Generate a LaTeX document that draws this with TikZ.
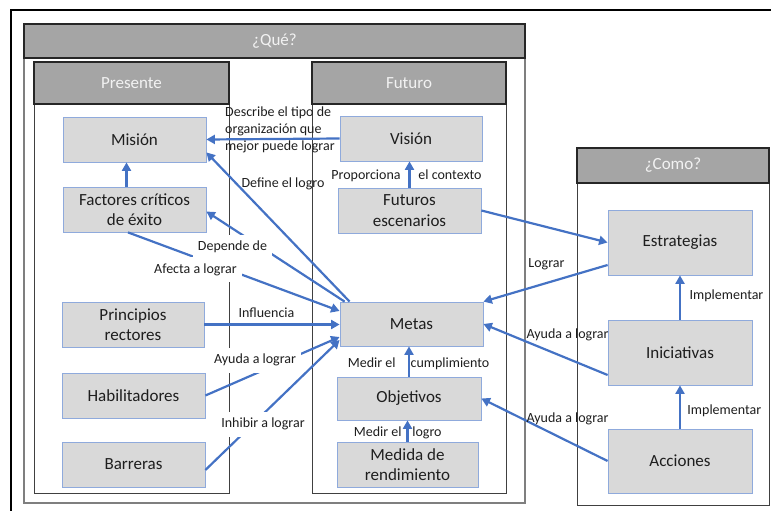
\documentclass[tikz,border=0pt]{standalone}
\usepackage{fontspec}
\setmainfont{Carlito}
\usetikzlibrary{arrows.meta,calc}
\definecolor{boxfill}{HTML}{D9D9D9}
\definecolor{boxline}{HTML}{8FAADC}
\definecolor{hdrfill}{HTML}{A5A5A5}
\definecolor{arrowblue}{HTML}{4472C4}
\definecolor{framegray}{HTML}{404040}
\definecolor{quegray}{HTML}{7F7F7F}
\definecolor{txt}{HTML}{1E1E1E}
\begin{document}
\begin{tikzpicture}[x=1pt,y=-1pt,
  box/.style={draw=boxline,line width=0.8pt,fill=boxfill,minimum width=143pt,minimum height=45pt,align=center,font=\fontsize{17}{20.5}\selectfont,text=txt,inner sep=0pt},
  hdr/.style={draw=black!85,line width=1.2pt,fill=hdrfill,text=white!95!black,font=\fontsize{17}{20}\selectfont,inner sep=0pt},
  frame/.style={draw=framegray,line width=1pt},
  conn/.style={draw=arrowblue,line width=2.2pt,-{Triangle[length=8.5pt,width=9pt]}},
  plain/.style={font=\fontsize{14}{17}\selectfont,text=txt,inner sep=0pt},
  lbl/.style={plain,text height=10pt,text depth=3pt},
  wlbl/.style={lbl,fill=white,inner xsep=5pt,inner ysep=6pt}
]
\useasboundingbox (0,0) rectangle (771,511);
% outer frame
\draw[black,line width=1.5pt] (11,520) -- (11,10) -- (780,10);
% frames
\draw[draw=quegray,line width=1.2pt] (24,24) rectangle (525,503);
\draw[frame] (34,62) rectangle (229,493);
\draw[frame] (312,62) rectangle (506,493);
\draw[frame] (577,148) rectangle (769,505);
% headers
\node[hdr,minimum width=501pt,minimum height=34pt] (que) at (274.5,41) {¿Qué?};
\node[hdr,minimum width=195pt,minimum height=42pt] (presente) at (131.5,83) {Presente};
\node[hdr,minimum width=194pt,minimum height=42pt] (futuro) at (409,83) {Futuro};
\node[hdr,minimum width=192pt,minimum height=35pt] (como) at (673,165.5) {¿Como?};
% boxes
\node[box] (mision) at (134.5,139.5) {Misión};
\node[box] (factores) at (134.5,209.5) {Factores críticos\\de éxito};
\node[box,minimum width=142pt] (principios) at (133,324.5) {Principios\\rectores};
\node[box] (habil) at (133.5,395.5) {Habilitadores};
\node[box] (barreras) at (133.5,464.5) {Barreras};
\node[box,minimum width=142pt] (vision) at (411,138.5) {Visión};
\node[box] (futuros) at (409.5,210.5) {Futuros\\escenarios};
\node[box,minimum height=44pt] (metas) at (411.5,324) {Metas};
\node[box,minimum width=144pt,minimum height=43pt] (objetivos) at (409,398.5) {Objetivos};
\node[box,minimum width=141pt] (medida) at (407.5,464.5) {Medida de\\rendimiento};
\node[box,minimum width=144pt,minimum height=65pt] (estrategias) at (680,242.5) {Estrategias};
\node[box,minimum width=144pt,minimum height=65pt] (iniciativas) at (680,352.5) {Iniciativas};
\node[box,minimum width=144pt,minimum height=64pt] (acciones) at (680,461) {Acciones};
% connectors
\draw[conn] (vision.west) -- (mision.east);
\draw[conn] (futuros.north) -- (futuros.north |- vision.south);
\draw[conn] ([xshift=-8pt]factores.north) -- ([xshift=-8pt]mision.south);
\draw[conn] ([xshift=10pt]metas.north west) -- ([yshift=10pt]mision.south east);
\draw[conn] ([xshift=5pt]metas.north west) -- ([yshift=-2pt]factores.east);
\draw[conn] ([xshift=-6.5pt]factores.south) -- ([yshift=13pt]metas.west);
\draw[conn] (principios.east) -- (principios.east -| metas.west);
\draw[conn] (habil.east) -- ([yshift=-13pt]metas.west);
\draw[conn] ([yshift=-5.5pt]barreras.east) -- ([yshift=-16pt]metas.west);
\draw[conn] (objetivos.north) -- (objetivos.north |- metas.south);
\draw[conn] (medida.north) -- (medida.north |- objetivos.south);
\draw[conn] (futuros.east) -- (estrategias.west);
\draw[conn] ([yshift=-22.5pt]estrategias.west) -- (metas.north east);
\draw[conn] ([yshift=-22.5pt]iniciativas.west) -- (metas.east);
\draw[conn] (acciones.west) -- (objetivos.east);
\draw[conn] (iniciativas.north) -- (estrategias.south);
\draw[conn] (acciones.north) -- (iniciativas.south);
% labels
\node[plain,align=left,anchor=west] (ldescribe) at (225,130) {Describe el tipo de\\organización que\\mejor puede lograr};
\node[lbl] (lproporciona) at (366,176) {Proporciona};
\node[lbl] (lcontexto) at (450,176) {el contexto};
\node[lbl] (ldefine) at (283,184) {Define el logro};
\node[wlbl] (ldepende) at (232.5,247) {Depende de};
\node[wlbl] (lafecta) at (195.5,269.5) {Afecta a lograr};
\node[lbl] (linfluencia) at (266.5,314) {Influencia};
\node[wlbl] (layudaa) at (255,360) {Ayuda a lograr};
\node[wlbl] (linhibir) at (263,424) {Inhibir a lograr};
\node[lbl] (lmedira) at (371.7,364) {Medir el};
\node[lbl] (lcumpl) at (450,364) {cumplimiento};
\node[lbl] (lmedirb) at (377.8,432.7) {Medir el};
\node[lbl] (llogro) at (427,432.7) {logro};
\node[lbl] (llograr) at (546.5,264) {Lograr};
\node[lbl] (layudab) at (567.5,335) {Ayuda a lograr};
\node[lbl] (layudac) at (567.5,419.3) {Ayuda a lograr};
\node[lbl] (limpla) at (726.5,296) {Implementar};
\node[lbl] (limplb) at (724.3,410.7) {Implementar};
\end{tikzpicture}
\end{document}
